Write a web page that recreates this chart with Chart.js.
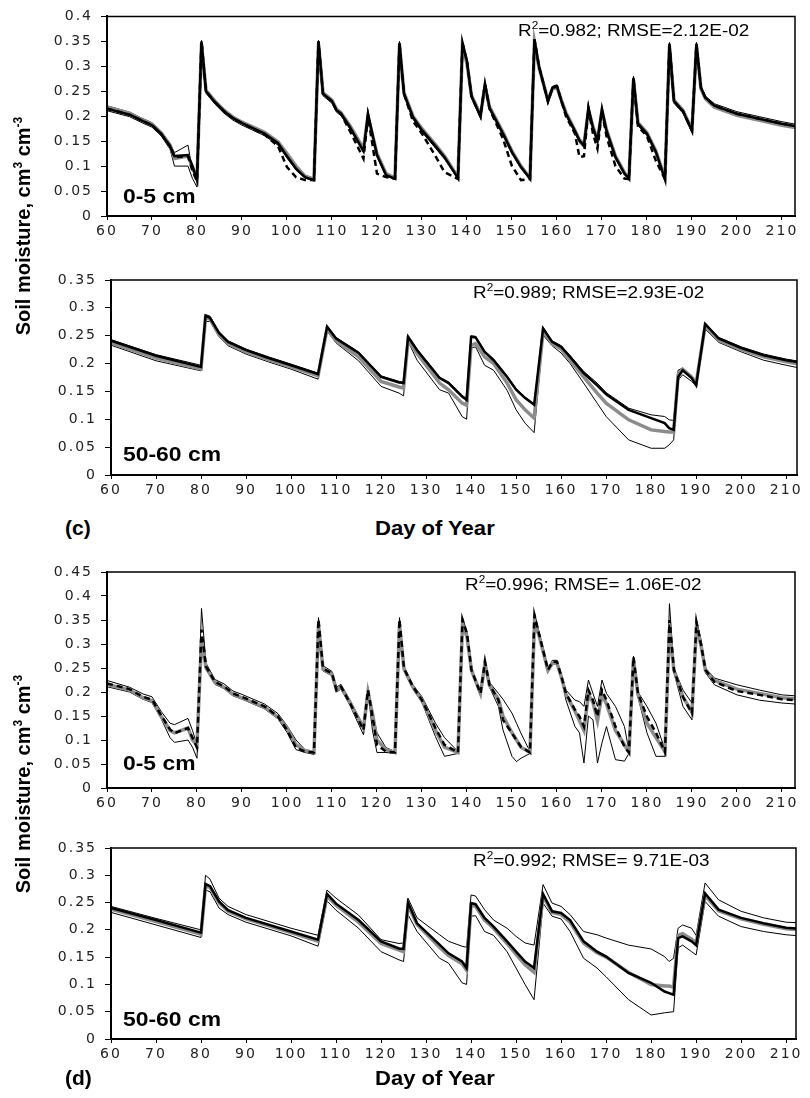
<!DOCTYPE html>
<html>
<head>
<meta charset="utf-8">
<title>Soil moisture</title>
<script src="https://cdn.jsdelivr.net/npm/chart.js@4.4.0/dist/chart.umd.min.js"></script>
<style>
  body { margin: 0; background: #fff; }
  #page { position: relative; width: 810px; height: 1098px; overflow: hidden; font-family: "Liberation Sans", Arial, sans-serif; color: #000; }
  .panel { position: absolute; left: 0; }
  .t { position: absolute; white-space: nowrap; line-height: 1; transform-origin: 0 0; }
  .stat { font-size: 16px; transform: scaleX(1.18); }
  .stat span { font-size: 10px; position: relative; top: -7px; }
  .depth { font-size: 21px; font-weight: bold; transform: scaleX(1.09); }
  .xt { font-size: 21px; font-weight: bold; transform: scaleX(1.05); }
  .tag { font-size: 21px; font-weight: bold; }
  .yt { font-size: 20px; font-weight: bold; transform-origin: 50% 50%; transform: translate(-50%, -50%) rotate(-90deg); }
  .yt span { font-size: 12px; position: relative; top: -8px; }
</style>
</head>
<body>
<div id="page">
  <canvas class="panel" id="c5" width="810" height="245" style="top:0px"></canvas>
  <canvas class="panel" id="c50" width="810" height="245" style="top:260px"></canvas>
  <canvas class="panel" id="d5" width="810" height="260" style="top:555px"></canvas>
  <canvas class="panel" id="d50" width="810" height="245" style="top:830px"></canvas>

  <div class="t stat" style="left:518px;top:23px">R<span>2</span>=0.982; RMSE=2.12E-02</div>
  <div class="t stat" style="left:473px;top:285px">R<span>2</span>=0.989; RMSE=2.93E-02</div>
  <div class="t stat" style="left:465px;top:577px">R<span>2</span>=0.996; RMSE= 1.06E-02</div>
  <div class="t stat" style="left:473px;top:853px">R<span>2</span>=0.992; RMSE= 9.71E-03</div>

  <div class="t depth" style="left:123px;top:185px">0-5 cm</div>
  <div class="t depth" style="left:123px;top:443px">50-60 cm</div>
  <div class="t depth" style="left:123px;top:752px">0-5 cm</div>
  <div class="t depth" style="left:123px;top:1008px">50-60 cm</div>

  <div class="t tag" style="left:65px;top:517px">(c)</div>
  <div class="t xt" style="left:375px;top:517px">Day of Year</div>
  <div class="t tag" style="left:65px;top:1067px">(d)</div>
  <div class="t xt" style="left:375px;top:1067px">Day of Year</div>

  <div class="t yt" style="left:23px;top:226px">Soil moisture, cm<span>3</span> cm<span>-3</span></div>
  <div class="t yt" style="left:23px;top:784px">Soil moisture, cm<span>3</span> cm<span>-3</span></div>
</div>

<script>
// ---- (c) 0-5 cm ----
const daysC5 = [60,65,68,70,72,74,75,78,79,80,81,82,84,86,88,90,95,98,100,102,104,106,107,108,110,111,112,114,117,118,120,122,124,125,126,128,130,133,135,138,139,140,141,143,144,145,148,150,152,154,155,156,158,159,160,161,162,164,165,166,167,168,169,170,171,173,175,176,177,178,180,182,184,185,186,188,190,191,192,193,195,200,205,210,213];
const blackC5 = [.215,.203,.190,.182,.165,.140,.120,.122,.100,.072,
  .350,.250,.228,.210,.196,.186,.165,.146,.120,.095,
  .078,.072,.350,.245,.230,.212,.205,.178,.130,.205,
  .122,.082,.075,.347,.245,.198,.172,.140,.118,.076,
  .347,.310,.240,.200,.265,.217,.165,.128,.098,.075,
  .354,.300,.230,.257,.260,.230,.205,.170,.151,.141,
  .217,.177,.151,.215,.171,.118,.085,.075,.277,.185,
  .165,.128,.074,.345,.230,.210,.171,.345,.257,.237,
  .221,.205,.195,.185,.180];
const dashC5 = [.215,.203,.190,.182,.165,.140,.118,.120,.090,.070,
  .350,.250,.228,.210,.196,.186,.163,.140,.098,.078,
  .072,.072,.350,.245,.230,.212,.205,.170,.115,.200,
  .085,.078,.075,.347,.245,.190,.165,.120,.088,.074,
  .347,.310,.240,.200,.265,.215,.155,.100,.072,.074,
  .354,.300,.230,.257,.260,.230,.200,.165,.118,.120,
  .215,.165,.135,.210,.160,.100,.075,.074,.277,.180,
  .160,.110,.074,.345,.230,.210,.171,.345,.257,.237,
  .221,.205,.195,.185,.180];
const meanC5 = [.218,.206,.192,.184,.167,.142,.115,.120,.098,.075,
  .345,.252,.230,.212,.198,.188,.168,.149,.125,.100,
  .080,.074,.345,.247,.232,.214,.207,.181,.135,.200,
  .125,.085,.076,.342,.247,.200,.175,.143,.120,.078,
  .342,.305,.242,.202,.260,.219,.168,.130,.100,.076,
  .348,.298,.232,.255,.258,.232,.207,.172,.153,.143,
  .212,.179,.153,.210,.173,.120,.087,.076,.272,.187,
  .167,.130,.076,.340,.232,.212,.173,.340,.255,.235,
  .218,.202,.192,.182,.177];
const hiC5 = [.221,.208,.195,.187,.170,.146,.127,.142,.090,.080,
  .352,.255,.232,.214,.200,.190,.169,.150,.124,.100,
  .082,.075,.352,.250,.234,.216,.209,.182,.134,.208,
  .126,.086,.077,.350,.249,.202,.176,.144,.122,.078,
  .350,.313,.244,.204,.268,.221,.169,.132,.102,.077,
  .356,.303,.234,.260,.263,.234,.209,.174,.155,.145,
  .220,.181,.155,.218,.175,.122,.088,.077,.280,.189,
  .169,.132,.077,.348,.234,.214,.175,.348,.260,.240,
  .225,.209,.199,.189,.184];
const loC5 = [.211,.199,.186,.178,.161,.134,.100,.100,.075,.058,
  .345,.246,.224,.206,.192,.182,.161,.142,.116,.092,
  .076,.070,.345,.241,.226,.208,.201,.174,.127,.200,
  .119,.080,.073,.342,.241,.194,.168,.136,.114,.074,
  .342,.305,.236,.196,.260,.213,.161,.124,.095,.073,
  .350,.296,.226,.253,.256,.226,.201,.166,.147,.137,
  .212,.173,.147,.210,.167,.114,.082,.073,.272,.181,
  .161,.124,.072,.340,.226,.206,.167,.340,.253,.233,
  .217,.201,.191,.181,.176];

// ---- (c) 50-60 cm ----
const daysC50 = [60,70,80,81,82,84,86,90,95,100,106,108,110,115,120,124,125,126,128,133,135,138,139,140,141,143,145,148,150,152,154,156,158,160,162,165,168,170,175,180,183,184,185,186,187,189,190,192,195,200,205,210,213];
const blackC50 = [.241,.214,.194,.286,.282,.255,.239,.224,.210,.197,
  .181,.266,.245,.219,.176,.166,.165,.248,.224,.174,
  .165,.141,.135,.248,.247,.221,.206,.176,.153,.138,
  .126,.263,.239,.230,.212,.183,.161,.145,.117,.102,
  .093,.084,.081,.176,.188,.174,.161,.271,.245,.228,
  .215,.206,.202];
const meanC50 = [.237,.210,.190,.282,.280,.252,.236,.221,.207,.194,
  .178,.262,.241,.212,.168,.158,.156,.242,.218,.165,
  .153,.129,.125,.233,.236,.212,.200,.165,.135,.117,
  .102,.258,.236,.226,.206,.176,.147,.129,.099,.081,
  .078,.077,.077,.180,.190,.176,.165,.268,.242,.225,
  .212,.203,.199];
const hiC50 = [.243,.216,.197,.288,.285,.257,.241,.226,.212,.199,
  .183,.268,.247,.221,.178,.168,.167,.250,.226,.176,
  .167,.143,.137,.250,.249,.223,.208,.178,.155,.140,
  .128,.265,.241,.232,.214,.186,.165,.148,.120,.108,
  .105,.099,.098,.188,.192,.178,.163,.273,.247,.230,
  .217,.208,.204];
const loC50 = [.233,.205,.187,.275,.276,.248,.232,.217,.203,.190,
  .172,.258,.237,.205,.159,.147,.142,.240,.206,.153,
  .147,.105,.100,.228,.230,.197,.188,.152,.117,.093,
  .076,.251,.232,.219,.200,.165,.129,.105,.063,.048,
  .048,.054,.063,.170,.180,.168,.160,.262,.238,.221,
  .206,.197,.192];

// ---- (d) 0-5 cm ----
const daysD5 = [60,65,68,70,72,74,75,78,79,80,81,82,84,86,88,90,95,98,100,102,104,106,107,108,110,111,112,114,117,118,119,120,122,124,125,126,128,130,133,135,138,139,140,141,143,144,145,147,148,150,151,152,154,155,156,158,159,160,161,162,164,165,166,167,168,169,170,171,173,175,176,177,178,180,182,184,185,186,188,190,191,192,193,195,200,205,210,213];
const dashD5 = [.218,.206,.190,.184,.152,.122,.114,.125,.105,.084,
  .330,.253,.221,.212,.197,.190,.170,.149,.121,.084,
  .076,.074,.351,.249,.239,.204,.211,.177,.121,.204,
  .149,.090,.076,.074,.351,.249,.211,.183,.125,.090,
  .074,.351,.322,.246,.197,.263,.215,.183,.142,.114,
  .100,.086,.074,.360,.322,.246,.263,.263,.232,.197,
  .163,.149,.128,.204,.183,.149,.204,.183,.128,.086,
  .074,.273,.197,.149,.115,.075,.350,.246,.190,.156,
  .346,.300,.246,.221,.202,.194,.185,.183];
const meanD5 = [.216,.204,.188,.182,.150,.120,.115,.125,.100,.090,
  .310,.250,.220,.210,.195,.188,.168,.148,.125,.090,
  .078,.074,.340,.248,.237,.204,.210,.178,.125,.200,
  .155,.100,.080,.074,.340,.248,.210,.183,.120,.085,
  .074,.340,.315,.245,.197,.260,.214,.185,.150,.115,
  .100,.085,.074,.345,.318,.245,.260,.260,.230,.195,
  .160,.140,.120,.195,.178,.140,.195,.175,.120,.090,
  .075,.268,.195,.135,.105,.076,.330,.245,.190,.158,
  .335,.298,.245,.224,.206,.197,.188,.186];
const hiD5 = [.224,.210,.196,.190,.160,.135,.132,.145,.120,.090,
  .374,.260,.226,.217,.202,.195,.175,.155,.130,.100,
  .080,.075,.355,.255,.243,.210,.216,.183,.130,.210,
  .160,.115,.084,.076,.355,.253,.215,.190,.135,.105,
  .076,.355,.325,.250,.200,.268,.220,.197,.185,.156,
  .135,.114,.076,.365,.326,.250,.266,.266,.236,.204,
  .183,.180,.170,.225,.197,.170,.225,.197,.170,.128,
  .077,.275,.200,.170,.135,.080,.384,.250,.204,.177,
  .350,.310,.250,.229,.215,.204,.194,.192];
const loD5 = [.211,.200,.185,.178,.145,.105,.095,.100,.085,.062,
  .310,.248,.216,.207,.192,.185,.165,.144,.116,.080,
  .074,.070,.345,.244,.234,.200,.206,.172,.111,.200,
  .120,.074,.074,.072,.345,.244,.206,.178,.107,.066,
  .072,.345,.318,.242,.192,.258,.210,.170,.121,.066,
  .055,.062,.072,.350,.318,.242,.258,.258,.228,.183,
  .128,.115,.052,.150,.142,.052,.094,.128,.059,.056,
  .072,.265,.190,.115,.066,.066,.340,.240,.170,.142,
  .340,.290,.240,.215,.194,.183,.177,.175];

// ---- (d) 50-60 cm ----
const daysD50 = [60,70,80,81,82,84,86,90,100,106,108,110,115,120,124,125,126,128,133,135,138,139,140,141,143,145,148,150,152,154,156,158,160,162,165,168,170,175,180,183,184,185,186,187,189,190,192,195,200,205,210,213];
const blackD50 = [.240,.218,.195,.284,.280,.252,.236,.222,.197,.182,
  .266,.248,.218,.179,.166,.165,.250,.212,.173,.157,
  .142,.130,.249,.247,.222,.206,.179,.160,.142,.130,
  .266,.234,.231,.218,.179,.160,.151,.121,.103,.087,
  .084,.081,.185,.188,.179,.172,.267,.237,.222,.212,
  .204,.202];
const meanD50 = [.238,.215,.192,.280,.278,.250,.234,.220,.195,.179,
  .262,.245,.214,.175,.163,.160,.245,.210,.168,.153,
  .138,.126,.245,.243,.218,.203,.175,.155,.136,.122,
  .262,.232,.228,.214,.176,.158,.150,.122,.100,.097,
  .097,.095,.190,.193,.183,.176,.263,.235,.220,.210,
  .202,.200];
const hiD50 = [.243,.221,.200,.300,.293,.258,.243,.228,.203,.190,
  .273,.258,.227,.182,.175,.176,.258,.222,.191,.179,
  .170,.168,.264,.262,.237,.218,.203,.188,.176,.172,
  .283,.249,.243,.228,.197,.191,.185,.172,.165,.151,
  .142,.148,.203,.209,.203,.190,.286,.255,.234,.222,
  .214,.213];
const loD50 = [.232,.209,.186,.273,.270,.240,.228,.214,.189,.170,
  .253,.236,.203,.160,.145,.142,.228,.197,.148,.139,
  .103,.100,.225,.226,.197,.190,.160,.130,.100,.072,
  .249,.225,.220,.197,.148,.130,.114,.072,.044,.048,
  .049,.050,.167,.172,.160,.154,.252,.225,.206,.197,
  .191,.189];

const yTicksMax = { c5: 0.4, c50: 0.35, d5: 0.45, d50: 0.35 };

function line(data, color, width, dash) {
  return { data: data, borderColor: color, borderWidth: width, borderDash: dash || [], pointRadius: 0, fill: false, tension: 0 };
}

const GREY = '#8c8c8c';

const spacing = {
  id: 'spacing',
  beforeDraw(c) { c.ctx.letterSpacing = '2px'; },
  beforeDatasetsDraw(c) { c.ctx.letterSpacing = '0px'; }
};

const frame = {
  id: 'frame',
  afterDatasetsDraw(c) {
    const ctx = c.ctx, a = c.chartArea;
    ctx.save();
    ctx.strokeStyle = '#000';
    ctx.lineWidth = 1.5;
    ctx.beginPath();
    ctx.moveTo(a.left, a.top); ctx.lineTo(a.right, a.top); ctx.lineTo(a.right, a.bottom);
    ctx.stroke();
    ctx.lineWidth = 2;
    ctx.beginPath();
    ctx.moveTo(a.left, a.top); ctx.lineTo(a.left, a.bottom); ctx.lineTo(a.right, a.bottom);
    ctx.stroke();
    ctx.restore();
  }
};

const tickFont = { family: 'DejaVu Sans', size: 14 };

function buildChart(id, days, sets, box) {
  return new Chart(document.getElementById(id), {
    type: 'line',
    data: { labels: days, datasets: sets },
    options: {
      responsive: false,
      animation: false,
      layout: { padding: { top: box.top, right: box.right, left: 0, bottom: 0 } },
      plugins: { legend: { display: false }, tooltip: { enabled: false } },
      scales: {
        x: {
          type: 'linear', min: 60, max: box.xmax,
          afterBuildTicks: s => { s.ticks = s.ticks.filter(t => Math.abs(t.value - Math.round(t.value / 10) * 10) < 1e-6); },
          afterFit: s => { s.height = box.axisH; },
          ticks: { stepSize: 10, includeBounds: false, autoSkip: false, maxRotation: 0, padding: 3, color: '#222', font: tickFont },
          grid: { drawOnChartArea: false, tickLength: 4, tickColor: '#000', tickWidth: 1 },
          border: { color: '#000', width: 2 }
        },
        y: {
          min: 0, max: yTicksMax[id],
          afterFit: s => { s.width = box.left; },
          ticks: { stepSize: 0.05, padding: 8, color: '#222', font: tickFont, callback: v => String(+v.toFixed(2)) },
          grid: { drawOnChartArea: false, tickLength: 6, tickColor: '#000', tickWidth: 1 },
          border: { color: '#000', width: 2 }
        }
      }
    },
    plugins: [spacing, frame]
  });
}

buildChart('c5', daysC5, [
  line(blackC5, '#000', 2.5),
  line(dashC5, '#000', 2.5, [6, 4]),
  line(meanC5, GREY, 3.5),
  line(hiC5, '#000', 1),
  line(loC5, '#000', 1)
], { top: 15, right: 15, left: 107, axisH: 29, xmax: 212.9 });

buildChart('c50', daysC50, [
  line(blackC50, '#000', 2.5),
  line(meanC50, GREY, 3.5),
  line(hiC50, '#000', 1),
  line(loC50, '#000', 1)
], { top: 20, right: 13, left: 111, axisH: 30, xmax: 212.4 });

buildChart('d5', daysD5, [
  line(dashD5, '#000', 2.5, [6, 4]),
  line(meanD5, GREY, 3.5),
  line(hiD5, '#000', 1),
  line(loD5, '#000', 1)
], { top: 17, right: 15, left: 107, axisH: 27, xmax: 212.9 });

buildChart('d50', daysD50, [
  line(blackD50, '#000', 2.5),
  line(meanD50, GREY, 3.5),
  line(hiD50, '#000', 1),
  line(loD50, '#000', 1)
], { top: 18, right: 14, left: 111, axisH: 36, xmax: 212.2 });
</script>
</body>
</html>
